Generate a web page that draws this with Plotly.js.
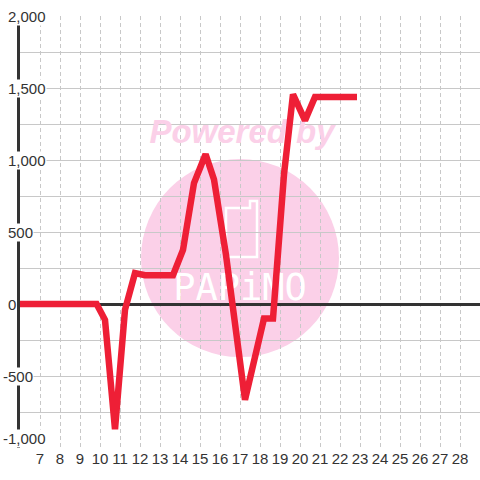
<!DOCTYPE html>
<html>
<head>
<meta charset="utf-8">
<script src="https://cdn.plot.ly/plotly-3.0.1.min.js"></script>
<style>html,body{margin:0;padding:0;background:#fff;}#chart{width:480px;height:480px;}</style>
</head>
<body>
<div id="chart"></div>
<script>
// Data
var xValues = [6, 9.83, 10.25, 10.75, 11.25, 11.75, 12.25, 13.65, 14.15, 14.7, 15.28, 15.7, 16.3, 17.25, 18.2, 18.65, 19.2, 19.65, 20.25, 20.75, 22.85];
var yValues = [0, 0, -110, -870, -40, 215, 200, 200, 375, 840, 1040, 865, 340, -665, -100, -100, 900, 1455, 1275, 1437, 1437];
var xTickVals = [7, 8, 9, 10, 11, 12, 13, 14, 15, 16, 17, 18, 19, 20, 21, 22, 23, 24, 25, 26, 27, 28];
var yLabelVals = [2000, 1500, 1000, 500, 0, -500, -1000];
var yLabelTexts = ["2,000", "1,500", "1,000", "500", "0", "-500", "-1,000"];
var watermarkText = "Powered by";
var logoText = "PAPiMO";

var pink = "#fbd0e8";

var traces = [
  {
    x: [17.1], y: [1174], mode: "text", text: [watermarkText],
    textfont: {family: "Liberation Sans, Arial, sans-serif", size: 33, color: pink, weight: "bold", style: "italic"},
    hoverinfo: "skip", showlegend: false
  },
  {
    x: [17], y: [90], mode: "text", text: [logoText],
    textfont: {family: "DejaVu Sans Mono, monospace", size: 37, color: "#ffffff"},
    hoverinfo: "skip", showlegend: false
  },
  {
    x: xValues, y: yValues, mode: "lines",
    line: {color: "#ee1f36", width: 6.5},
    hoverinfo: "skip", showlegend: false
  }
];

var annotations = yLabelVals.map(function (v, i) {
  var neg = v < 0;
  var last = (i === yLabelVals.length - 1);
  return {
    xref: "paper", yref: "y", x: 0, y: v,
    xanchor: "left", yanchor: last ? "bottom" : "middle",
    xshift: neg ? -18 : -13,
    text: yLabelTexts[i], showarrow: false,
    bgcolor: "#ffffff", borderpad: 0,
    font: {family: "Liberation Sans, Arial, sans-serif", size: 15, color: "#333333"}
  };
});

var layout = {
  width: 480, height: 480,
  margin: {l: 20, r: 0, t: 16, b: 32, pad: 0},
  paper_bgcolor: "#ffffff", plot_bgcolor: "#ffffff",
  showlegend: false,
  xaxis: {
    range: [6, 29], tickvals: xTickVals, ticktext: xTickVals.map(String),
    showgrid: true, gridcolor: "#c8c8c8", griddash: "4px,3px", gridwidth: 1,
    zeroline: false, showline: false, ticks: "",
    tickfont: {family: "Liberation Sans, Arial, sans-serif", size: 15, color: "#333333"},
    fixedrange: true
  },
  yaxis: {
    range: [-1000, 2000], dtick: 250, tick0: 0,
    showgrid: true, gridcolor: "#c8c8c8", gridwidth: 1,
    showticklabels: false, ticks: "",
    zeroline: true, zerolinecolor: "#333333", zerolinewidth: 3,
    showline: true, linecolor: "#333333", linewidth: 3,
    fixedrange: true
  },
  shapes: [
    {
      type: "circle", layer: "below",
      xref: "x", yref: "y", xsizemode: "pixel", ysizemode: "pixel",
      xanchor: 17, yanchor: 319, x0: -99, x1: 99, y0: -99, y1: 99,
      fillcolor: pink, line: {width: 0}
    },
    {
      type: "path", layer: "below", xref: "x", yref: "y",
      path: "M 16.3 666.7 L 17.5 666.7 L 17.5 715.3 L 17.85 715.3 L 17.85 326.4 L 16.3 326.4 Z",
      line: {color: "#ffffff", width: 2.5}, fillcolor: "rgba(0,0,0,0)"
    }
  ],
  annotations: annotations
};

Plotly.newPlot("chart", traces, layout, {displayModeBar: false, staticPlot: true});
</script>
</body>
</html>
